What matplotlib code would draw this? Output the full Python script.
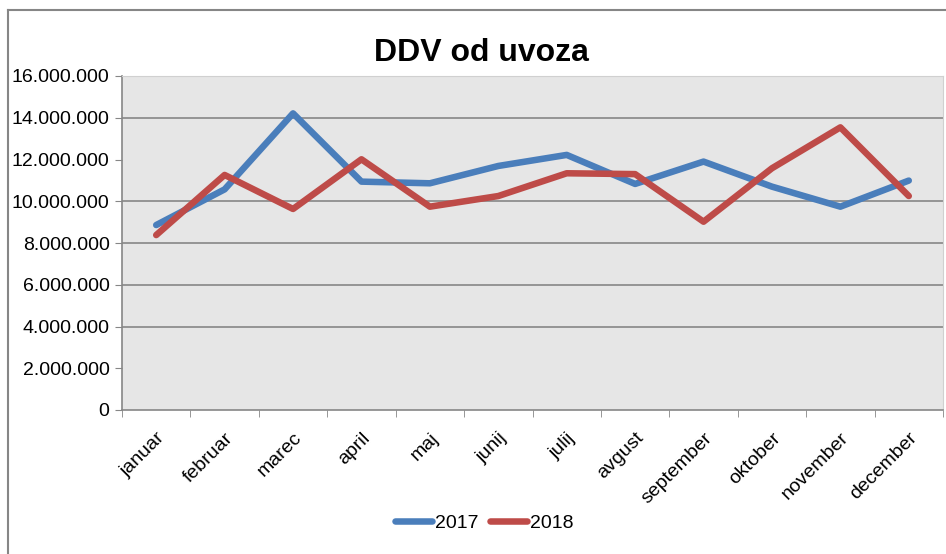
import matplotlib.pyplot as plt
from matplotlib.lines import Line2D
from matplotlib.ticker import FuncFormatter

plt.rcParams['font.family'] = ['Liberation Sans', 'DejaVu Sans']

months = ['januar', 'februar', 'marec', 'april', 'maj', 'junij',
          'julij', 'avgust', 'september', 'oktober', 'november', 'december']
ddv_2017 = [8.86e6, 10.57e6, 14.21e6, 10.94e6, 10.86e6, 11.69e6,
            12.22e6, 10.83e6, 11.90e6, 10.70e6, 9.74e6, 10.99e6]
ddv_2018 = [8.38e6, 11.26e6, 9.63e6, 12.01e6, 9.74e6, 10.25e6,
            11.34e6, 11.30e6, 9.02e6, 11.58e6, 13.54e6, 10.25e6]
y_ticks = [0, 2e6, 4e6, 6e6, 8e6, 10e6, 12e6, 14e6, 16e6]
grid_lines = [4e6, 6e6, 8e6, 10e6, 14e6, 16e6]

fig = plt.figure(figsize=(9.46, 5.54), dpi=100)
ax = fig.add_axes([122 / 946, 1 - 410 / 554, (943 - 122) / 946, (410 - 76) / 554])
ax.set_facecolor('#E6E6E6')

# rahmen okoli grafa
fig.add_artist(Line2D([8 / 946, 8 / 946], [0, 1 - 10 / 554], transform=fig.transFigure,
                      color='#868686', linewidth=1.5))
fig.add_artist(Line2D([8 / 946, 1], [1 - 10 / 554, 1 - 10 / 554], transform=fig.transFigure,
                      color='#868686', linewidth=1.5))

x = list(range(len(months)))
for g in grid_lines:
    ax.axhline(g, color='#868686', linewidth=1.2, zorder=1)

ax.plot(x, ddv_2017, color='#4A7EBB', linewidth=4.7, solid_capstyle='round',
        solid_joinstyle='round', label='2017', zorder=3)
ax.plot(x, ddv_2018, color='#BE4B48', linewidth=4.7, solid_capstyle='round',
        solid_joinstyle='round', label='2018', zorder=3)

ax.set_xlim(-0.5, len(months) - 0.5)
ax.set_ylim(0, 16e6)
ax.set_yticks(y_ticks)
ax.yaxis.set_major_formatter(FuncFormatter(lambda v, p: f'{int(v):,}'.replace(',', '.')))
ax.set_xticks(x)
ax.set_xticklabels(months, rotation=45, ha='right', rotation_mode='anchor')
ax.set_xticks([i - 0.5 for i in range(len(months) + 1)], minor=True)
ax.tick_params(axis='x', which='major', length=0, pad=14, labelsize=14)
ax.tick_params(axis='x', which='minor', length=5, color='#868686', direction='out')
ax.tick_params(axis='y', length=5, color='#868686', labelsize=14, pad=4)

for side in ['top', 'right']:
    ax.spines[side].set_color('#D0D0D0')
for side in ['left', 'bottom']:
    ax.spines[side].set_color('#868686')
    ax.spines[side].set_linewidth(1.2)

fig.text(481 / 946, 1 - 53 / 554, 'DDV od uvoza', ha='center', va='center',
         fontsize=23, fontweight='bold')

fig.legend(loc='center', bbox_to_anchor=(484 / 946, 1 - 523 / 554), ncol=2,
           frameon=False, fontsize=14, handlelength=1.9, handletextpad=0.15,
           columnspacing=0.6)

fig.savefig('out.png', dpi=100)
